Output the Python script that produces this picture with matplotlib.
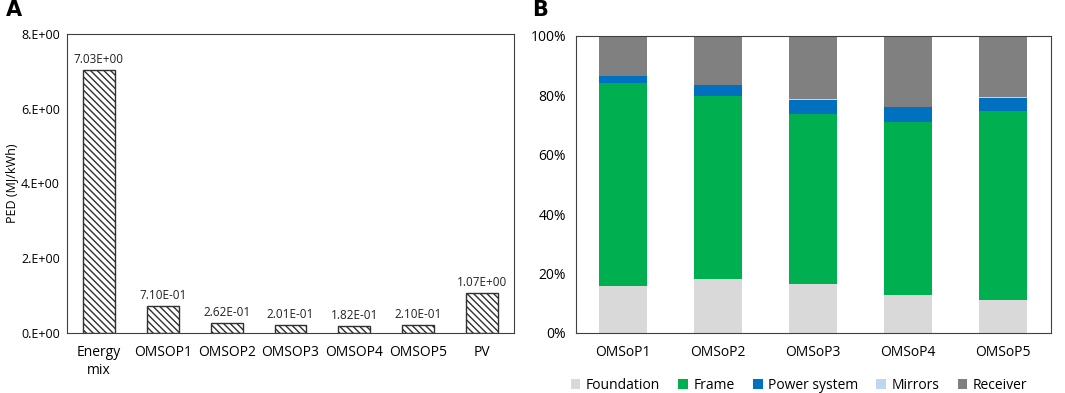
import matplotlib.pyplot as plt
import numpy as np

plt.rcParams['font.family'] = ['Open Sans', 'DejaVu Sans']
plt.rcParams['hatch.color'] = '#404040'
plt.rcParams['hatch.linewidth'] = 1.0

# panel A data
ped_labels = ['Energy\nmix', 'OMSOP1', 'OMSOP2', 'OMSOP3', 'OMSOP4', 'OMSOP5', 'PV']
ped_values = [7.03, 0.710, 0.262, 0.201, 0.182, 0.210, 1.07]
ped_text = ['7.03E+00', '7.10E-01', '2.62E-01', '2.01E-01', '1.82E-01', '2.10E-01', '1.07E+00']

# panel B data (% of total)
cases = ['OMSoP1', 'OMSoP2', 'OMSoP3', 'OMSoP4', 'OMSoP5']
foundation = [15.7, 18.1, 16.5, 12.9, 11.2]
frame = [68.3, 61.7, 57.3, 58.1, 63.6]
power_system = [2.4, 3.5, 4.6, 4.9, 4.4]
mirrors = [0.2, 0.2, 0.2, 0.2, 0.2]
receiver = [13.4, 16.5, 21.4, 23.9, 20.6]

fig = plt.figure(figsize=(10.65, 3.93), dpi=100)
ax1 = fig.add_axes([0.0629, 0.1527, 0.4197, 0.761])
ax2 = fig.add_axes([0.5406, 0.1527, 0.446, 0.7565])

x = np.arange(len(ped_labels))
ax1.bar(x, ped_values, width=0.5, color='white', edgecolor='#303030',
        hatch='\\' * 5, linewidth=1.0)
for xi, v, t in zip(x, ped_values, ped_text):
    ax1.text(xi, v + 0.12, t, ha='center', va='bottom', fontsize=8.5, color='#222222')
ax1.set_xlim(-0.5, len(ped_labels) - 0.5)
ax1.set_ylim(0, 8)
ax1.set_yticks([0, 2, 4, 6, 8])
ax1.set_yticklabels(['0.E+00', '2.E+00', '4.E+00', '6.E+00', '8.E+00'])
ax1.set_xticks(x)
ax1.set_xticklabels(ped_labels)
ax1.set_ylabel('PED (MJ/kWh)', fontsize=9)
ax1.yaxis.set_label_coords(-0.11, 0.5)
ax1.tick_params(length=0, labelsize=10, pad=9)
ax1.tick_params(axis='y', labelsize=9, pad=5)
for s in ax1.spines.values():
    s.set_color('#404040')
fig.text(0.006, 0.96, 'A', fontsize=15, fontweight='bold', family='DejaVu Sans')

xb = np.arange(len(cases))
series = [('Foundation', foundation, '#D9D9D9'),
          ('Frame', frame, '#00B050'),
          ('Power system', power_system, '#0070C0'),
          ('Mirrors', mirrors, '#BDD7EE'),
          ('Receiver', receiver, '#808080')]
bottom = np.zeros(len(cases))
for name, vals, col in series:
    ax2.bar(xb, vals, width=0.5, bottom=bottom, color=col, label=name)
    bottom += np.array(vals)
ax2.set_xlim(-0.5, len(cases) - 0.5)
ax2.set_ylim(0, 100)
ax2.set_yticks(np.arange(0, 101, 20))
ax2.set_yticklabels([f'{v}%' for v in range(0, 101, 20)])
ax2.set_xticks(xb)
ax2.set_xticklabels(cases)
ax2.tick_params(length=0, labelsize=10, pad=9)
ax2.tick_params(axis='y', labelsize=10, pad=7)
for s in ax2.spines.values():
    s.set_color('#404040')
ax2.legend(loc='center', bbox_to_anchor=(0.47, -0.175), ncol=5, frameon=False,
           fontsize=10, handlelength=0.7, handleheight=0.7, handletextpad=0.4,
           columnspacing=1.3)
fig.text(0.5, 0.96, 'B', fontsize=15, fontweight='bold', family='DejaVu Sans')

fig.savefig('out.png', dpi=100)
